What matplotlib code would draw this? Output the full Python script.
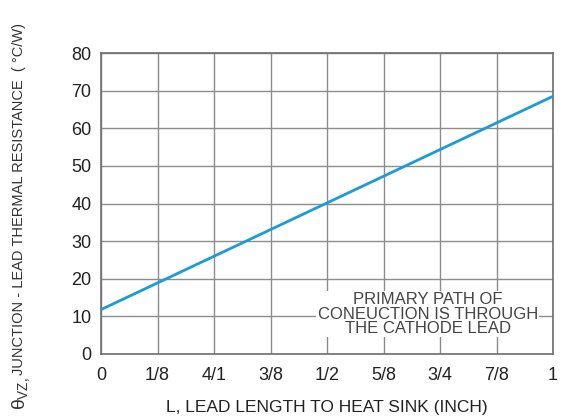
import numpy as np
import matplotlib
matplotlib.use('Agg')
from matplotlib import pyplot as plt

plt.rcParams['font.family'] = ['Liberation Sans', 'DejaVu Sans']
plt.rcParams['mathtext.fontset'] = 'custom'
plt.rcParams['mathtext.rm'] = 'Liberation Sans'
plt.rcParams['mathtext.it'] = 'Liberation Sans'

# Dữ liệu
lead_length = [0, 1]
theta_vz = [11.8, 68.5]
x_ticks = [0, 1/8, 2/8, 3/8, 4/8, 5/8, 6/8, 7/8, 1]
x_labels = ['0', '1/8', '4/1', '3/8', '1/2', '5/8', '3/4', '7/8', '1']
y_ticks = [0, 10, 20, 30, 40, 50, 60, 70, 80]

W, H = 561, 417
fig = plt.figure(figsize=(W / 100, H / 100), dpi=100)
ax = fig.add_axes([101 / W, 63 / H, 452 / W, 301 / H])

ax.plot(lead_length, theta_vz, color='#1b9bd7', linewidth=2, zorder=3)

ax.set_xlim(0, 1)
ax.set_ylim(0, 80)
ax.set_xticks(x_ticks)
ax.set_xticklabels(x_labels)
ax.set_yticks(y_ticks)
ax.grid(True, color='#8c8c8c', linewidth=1)
ax.set_axisbelow(True)
ax.tick_params(length=0, labelsize=13, colors='#222222')
ax.tick_params(axis='x', pad=9)
ax.tick_params(axis='y', pad=7)
for s in ax.spines.values():
    s.set_color('#6e6e6e')
    s.set_linewidth(1.2)

ax.set_xlabel('L, LEAD LENGTH TO HEAT SINK (INCH)', fontsize=12.5, color='#222222', labelpad=12)

# Nhãn trục y: ký hiệu theta và phần chữ
fig.text(12 / W, 42 / H, 'JUNCTION - LEAD THERMAL RESISTANCE  ( °C/W)',
         rotation=90, ha='left', va='bottom', fontsize=10.5, color='#333333')
fig.text(10 / W, 40 / H, r'$\theta_{VZ,}$',
         rotation=90, ha='left', va='top', fontsize=14, color='#333333')

ax.text(0.723, 10.6, 'PRIMARY PATH OF\nCONEUCTION IS THROUGH\nTHE CATHODE LEAD',
        ha='center', va='center', fontsize=12, color='#444444', linespacing=0.95,
        bbox=dict(facecolor='white', edgecolor='none', pad=1), zorder=4)

plt.savefig('out.png', dpi=100)
